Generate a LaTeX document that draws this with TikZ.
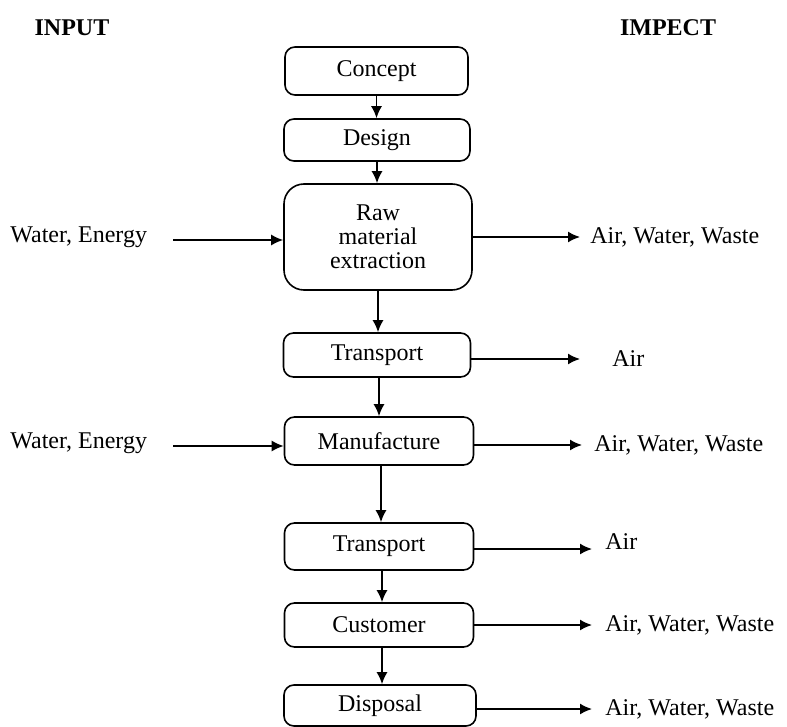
\documentclass[tikz,border=0pt]{standalone}
\usepackage{fontspec}
\setmainfont{Liberation Serif}
\usetikzlibrary{arrows.meta}
\begin{document}
\begin{tikzpicture}[x=0.5pt,y=-0.5pt,
  box/.style={draw, rounded corners=5pt, line width=0.8pt, inner sep=0pt, align=center, font=\fontsize{12}{12}\selectfont},
  lbl/.style={inner sep=0pt, font=\fontsize{12}{14}\selectfont},
  head/.style={inner sep=0pt, font=\fontsize{12}{14}\selectfont\bfseries},
  arr/.style={-{Latex[length=6pt,width=5.5pt]}, line width=0.8pt}]
\useasboundingbox (0,0) rectangle (787,727);
% headings
\node[head] (hin) at (72,28) {INPUT};
\node[head] (himp) at (668,28) {IMPECT};
% boxes
\node[box, minimum width=91.5pt, minimum height=24pt] (concept) at (376.5,71) {Concept};
\node[box, minimum width=93pt, minimum height=21pt] (design) at (377,140) {Design};
\node[box, rounded corners=10pt, minimum width=94pt, minimum height=53pt] (raw) at (378,237) {Raw\\material\\extraction};
\node[box, minimum width=93.5pt, minimum height=22pt] (tr1) at (377,355) {Transport};
\node[box, minimum width=94.5pt, minimum height=24pt] (manuf) at (379,441) {Manufacture};
\node[box, minimum width=94.5pt, minimum height=23.5pt] (tr2) at (379,546.5) {Transport};
\node[box, minimum width=94.5pt, minimum height=22pt] (cust) at (379,625) {Customer};
\node[box, minimum width=96pt, minimum height=20.5pt] (disp) at (380,705.5) {Disposal};
% vertical flow
\draw[arr] (concept.south) -- (concept.south |- design.north);
\draw[arr] (design.south) -- (design.south |- raw.north);
\draw[arr] (raw.south) -- (raw.south |- tr1.north);
\draw[arr] ([xshift=1pt]tr1.south) -- ([xshift=1pt]tr1.south |- manuf.north);
\draw[arr] ([xshift=1pt]manuf.south) -- ([xshift=1pt]manuf.south |- tr2.north);
\draw[arr] ([xshift=1.5pt]tr2.south) -- ([xshift=1.5pt]tr2.south |- cust.north);
\draw[arr] ([xshift=1.5pt]cust.south) -- ([xshift=1.5pt]cust.south |- disp.north);
% inputs
\node[lbl, anchor=west] (in1) at (10,237) {Water, Energy};
\coordinate (s1) at (173,240);
\draw[arr] (s1) -- (s1 -| raw.west);
\node[lbl, anchor=west] (in2) at (10,443) {Water, Energy};
\coordinate (s2) at (173,446);
\draw[arr] (s2) -- (s2 -| manuf.west);
% impacts
\coordinate (e1) at (580,237);
\draw[arr] (raw.east |- e1) -- (e1);
\node[lbl, anchor=west] (o1) at (590,237) {Air, Water, Waste};
\coordinate (e2) at (580,359);
\draw[arr] (tr1.east |- e2) -- (e2);
\node[lbl, anchor=west] (o2) at (612,359) {Air};
\coordinate (e3) at (582,445);
\draw[arr] (manuf.east |- e3) -- (e3);
\node[lbl, anchor=west] (o3) at (594,445) {Air, Water, Waste};
\coordinate (e4) at (592,549);
\draw[arr] (tr2.east |- e4) -- (e4);
\node[lbl, anchor=west] (o4) at (605,542) {Air};
\coordinate (e5) at (592,625);
\draw[arr] (cust.east |- e5) -- (e5);
\node[lbl, anchor=west] (o5) at (605,625) {Air, Water, Waste};
\coordinate (e6) at (592,709);
\draw[arr] (disp.east |- e6) -- (e6);
\node[lbl, anchor=west] (o6) at (605,709) {Air, Water, Waste};
\end{tikzpicture}
\end{document}
